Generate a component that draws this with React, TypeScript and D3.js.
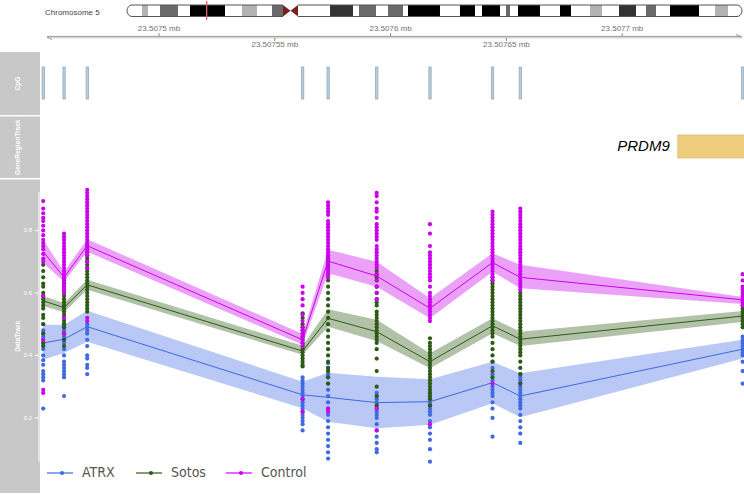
import React from "react";
import * as d3 from "d3";

const WIDTH = 744;
const HEIGHT = 495;

// chromosome 5 cytobands, Mb
const bandEdges = [
  0, 4.43, 6.2, 9.74, 15.05, 18.59, 28.92, 33.94, 38.37, 42.79, 46.04, 50.47, 59.91, 63.16, 66.7,
  68.47, 73.49, 77.03, 81.45, 82.93, 92.37, 98.27, 102.7, 104.77, 110.08, 111.85, 113.03, 115.39,
  121.88, 127.79, 131.03, 136.64, 140.18, 145.2, 150.22, 153.16, 156.12, 160.25, 168.81, 173.53,
  177.37, 181.5,
];
const bandStains = [
  "gneg", "gpos25", "gneg", "gpos50", "gneg", "gpos100", "gneg", "gpos25", "gneg", "gpos50",
  "acen", "gneg", "gpos75", "gpos75", "gneg", "gpos50", "gneg", "gpos50", "gneg", "gpos100",
  "gneg", "gpos100", "gneg", "gpos100", "gneg", "gpos50", "gneg", "gpos100", "gneg", "gpos100",
  "gneg", "gpos25", "gneg", "gpos75", "gneg", "gpos50", "gneg", "gpos100", "gneg", "gpos25", "gneg",
];
const markerMb = 23.5076;

// genome axis
const tickBp = [23507500, 23507550, 23507600, 23507650, 23507700];
const tickLabels = ["23.5075 mb", "23.50755 mb", "23.5076 mb", "23.50765 mb", "23.5077 mb"];

// CpG sites and gene
const cpgSites = [
  23507450, 23507459, 23507469, 23507562, 23507573, 23507594, 23507617, 23507644, 23507656,
  23507752,
];
const geneName = "PRDM9";
const geneStart = 23507724;
const geneEnd = 23507900;

// data track
const yTicks = [0.2, 0.4, 0.6, 0.8];
const groups = ["ATRX", "Sotos", "Control"];

const atrxMean = [0.44, 0.452, 0.492, 0.274, 0.266, 0.249, 0.252, 0.313, 0.27, 0.42];
const atrxLow = [0.386, 0.408, 0.444, 0.231, 0.188, 0.167, 0.178, 0.247, 0.202, 0.39];
const atrxHigh = [0.498, 0.498, 0.543, 0.316, 0.345, 0.332, 0.324, 0.38, 0.343, 0.45];

const sotosMean = [0.575, 0.553, 0.626, 0.414, 0.519, 0.476, 0.38, 0.495, 0.452, 0.526];
const sotosLow = [0.558, 0.538, 0.61, 0.402, 0.492, 0.446, 0.359, 0.471, 0.43, 0.507];
const sotosHigh = [0.59, 0.568, 0.642, 0.431, 0.548, 0.514, 0.407, 0.519, 0.476, 0.542];

const controlMean = [0.732, 0.65, 0.751, 0.45, 0.702, 0.654, 0.551, 0.697, 0.65, 0.578];
const controlLow = [0.696, 0.636, 0.732, 0.434, 0.663, 0.62, 0.519, 0.668, 0.615, 0.565];
const controlHigh = [0.77, 0.668, 0.772, 0.469, 0.738, 0.7, 0.583, 0.727, 0.69, 0.587];

const atrxPts = [
  [0.5, 0.48, 0.47, 0.46, 0.45, 0.44, 0.43, 0.42, 0.4, 0.385, 0.37, 0.35, 0.34, 0.33, 0.32, 0.23],
  [0.5, 0.49, 0.48, 0.47, 0.46, 0.45, 0.44, 0.42, 0.4, 0.38, 0.37, 0.36, 0.35, 0.34, 0.33, 0.27],
  [0.5, 0.49, 0.48, 0.47, 0.45, 0.43, 0.4, 0.39, 0.37, 0.36, 0.34],
  [0.33, 0.32, 0.31, 0.3, 0.29, 0.28, 0.27, 0.26, 0.25, 0.24, 0.23, 0.22, 0.21, 0.2, 0.19, 0.18, 0.16],
  [0.375, 0.36, 0.35, 0.34, 0.33, 0.31, 0.29, 0.27, 0.25, 0.23, 0.21, 0.19, 0.17, 0.15, 0.13, 0.11, 0.09, 0.07],
  [0.28, 0.27, 0.26, 0.25, 0.24, 0.23, 0.22, 0.21, 0.2, 0.18, 0.16, 0.14, 0.12, 0.1, 0.09],
  [0.28, 0.27, 0.26, 0.25, 0.24, 0.23, 0.22, 0.21, 0.19, 0.17, 0.15, 0.13, 0.1, 0.06],
  [0.38, 0.36, 0.34, 0.32, 0.3, 0.29, 0.28, 0.27, 0.25, 0.23, 0.2, 0.14],
  [0.34, 0.33, 0.32, 0.31, 0.3, 0.29, 0.28, 0.27, 0.26, 0.25, 0.24, 0.23, 0.21, 0.19, 0.17, 0.15, 0.12],
  [0.46, 0.45, 0.44, 0.43, 0.42, 0.41, 0.4, 0.38, 0.35, 0.31],
];

const sotosPts = [
  [0.69, 0.67, 0.65, 0.63, 0.62, 0.6, 0.59, 0.58, 0.57, 0.56, 0.55, 0.53, 0.52, 0.5, 0.47, 0.44, 0.43],
  [0.64, 0.63, 0.62, 0.61, 0.6, 0.59, 0.58, 0.57, 0.56, 0.55, 0.54, 0.53, 0.52, 0.51, 0.5, 0.49, 0.47, 0.45, 0.43],
  [0.75, 0.74, 0.73, 0.72, 0.71, 0.7, 0.69, 0.68, 0.67, 0.66, 0.65, 0.64, 0.63, 0.62, 0.61, 0.6, 0.59, 0.58, 0.57, 0.56, 0.55, 0.54],
  [0.535, 0.52, 0.5, 0.49, 0.48, 0.47, 0.46, 0.45, 0.44, 0.43, 0.42, 0.41, 0.4, 0.39, 0.38, 0.37, 0.365],
  [0.72, 0.71, 0.7, 0.69, 0.68, 0.66, 0.64, 0.62, 0.6, 0.58, 0.56, 0.54, 0.52, 0.5, 0.48, 0.46, 0.44, 0.42, 0.4, 0.38, 0.36, 0.35, 0.33, 0.31],
  [0.67, 0.66, 0.65, 0.64, 0.62, 0.6, 0.58, 0.57, 0.56, 0.54, 0.53, 0.52, 0.51, 0.5, 0.49, 0.48, 0.47, 0.46, 0.45, 0.44, 0.42, 0.39, 0.35, 0.3, 0.27, 0.24],
  [0.455, 0.44, 0.43, 0.42, 0.41, 0.4, 0.39, 0.38, 0.37, 0.36, 0.35, 0.34, 0.33, 0.32, 0.31, 0.3, 0.29, 0.28, 0.27, 0.26, 0.24],
  [0.65, 0.64, 0.63, 0.62, 0.61, 0.6, 0.59, 0.58, 0.57, 0.56, 0.55, 0.54, 0.53, 0.52, 0.51, 0.5, 0.49, 0.48, 0.47, 0.46, 0.44, 0.42, 0.4, 0.38, 0.35, 0.33],
  [0.6, 0.59, 0.58, 0.57, 0.56, 0.55, 0.54, 0.53, 0.52, 0.51, 0.5, 0.49, 0.48, 0.47, 0.46, 0.45, 0.44, 0.43, 0.42, 0.41, 0.4, 0.38, 0.36, 0.34, 0.31],
  [0.56, 0.55, 0.54, 0.53, 0.52, 0.51, 0.5, 0.49],
];

const controlPts = [
  [0.894, 0.87, 0.855, 0.84, 0.83, 0.815, 0.8, 0.785, 0.77, 0.76, 0.75, 0.74, 0.725, 0.71, 0.7, 0.59, 0.45, 0.29, 0.28],
  [0.79, 0.78, 0.77, 0.76, 0.75, 0.74, 0.73, 0.72, 0.71, 0.7, 0.69, 0.68, 0.67, 0.66, 0.65, 0.64, 0.63, 0.62, 0.61, 0.6, 0.52, 0.47],
  [0.93, 0.92, 0.91, 0.9, 0.89, 0.88, 0.87, 0.86, 0.85, 0.84, 0.83, 0.82, 0.81, 0.8, 0.79, 0.78, 0.77, 0.76, 0.75, 0.74, 0.73, 0.72, 0.7, 0.68, 0.52, 0.51],
  [0.62, 0.6, 0.58, 0.56, 0.53, 0.51, 0.49, 0.48, 0.47, 0.46, 0.45, 0.44, 0.43, 0.26, 0.22],
  [0.89, 0.88, 0.87, 0.86, 0.85, 0.83, 0.82, 0.81, 0.8, 0.79, 0.78, 0.77, 0.76, 0.75, 0.74, 0.73, 0.72, 0.71, 0.7, 0.69, 0.68, 0.67, 0.66, 0.65, 0.23, 0.22],
  [0.92, 0.91, 0.89, 0.87, 0.86, 0.84, 0.82, 0.81, 0.8, 0.79, 0.78, 0.77, 0.75, 0.74, 0.73, 0.72, 0.71, 0.7, 0.69, 0.68, 0.66, 0.64, 0.62, 0.6, 0.58, 0.23, 0.16],
  [0.82, 0.79, 0.75, 0.73, 0.72, 0.71, 0.7, 0.69, 0.68, 0.67, 0.66, 0.65, 0.64, 0.62, 0.6, 0.59, 0.58, 0.57, 0.56, 0.55, 0.54, 0.53, 0.52, 0.51, 0.18],
  [0.86, 0.85, 0.84, 0.83, 0.82, 0.81, 0.8, 0.79, 0.78, 0.77, 0.76, 0.75, 0.74, 0.73, 0.72, 0.71, 0.7, 0.69, 0.68, 0.67, 0.66, 0.65, 0.64, 0.31],
  [0.87, 0.86, 0.85, 0.84, 0.83, 0.82, 0.81, 0.8, 0.79, 0.78, 0.77, 0.76, 0.75, 0.74, 0.73, 0.72, 0.71, 0.7, 0.69, 0.68, 0.67, 0.66, 0.65, 0.64, 0.63, 0.62, 0.61],
  [0.66, 0.64, 0.62, 0.61, 0.6, 0.59, 0.58, 0.575, 0.57, 0.56],
];

const series = [
  { name: groups[0], color: "#4169E1", mean: atrxMean, low: atrxLow, high: atrxHigh, pts: atrxPts },
  { name: groups[1], color: "#2D5A16", mean: sotosMean, low: sotosLow, high: sotosHigh, pts: sotosPts },
  { name: groups[2], color: "#CC00EE", mean: controlMean, low: controlLow, high: controlHigh, pts: controlPts },
];

const stainColor: Record<string, string> = {
  gneg: "#FFFFFF",
  gpos25: "#B3B3B3",
  gpos50: "#6A6A6A",
  gpos75: "#333333",
  gpos100: "#000000",
  acen: "#7A1E1E",
};

const TITLE_BG = "#C8C8C8";
const FONT = "'Liberation Sans', Arial, sans-serif";

function Ideogram() {
  const xi = d3.scaleLinear().domain([0, 181.5]).range([127, 742]);
  const y0 = 5;
  const y1 = 16.5;
  const ym = (y0 + y1) / 2;
  const r = 5;
  const ci = bandStains.indexOf("acen");
  const c0 = xi(bandEdges[ci]);
  const c1 = xi(bandEdges[ci + 1]);
  const cm = (c0 + c1) / 2;
  const L = xi(0);
  const R = xi(181.5);
  const pArm = `M${c0},${y0} L${L + r},${y0} A${r},${(y1 - y0) / 2} 0 0 0 ${L + r},${y1} L${c0},${y1}`;
  const qArm = `M${c1},${y0} L${R - r},${y0} A${r},${(y1 - y0) / 2} 0 0 1 ${R - r},${y1} L${c1},${y1}`;
  return (
    <g>
      <defs>
        <clipPath id="chrClip">
          <path d={pArm + " Z"} />
          <path d={qArm + " Z"} />
        </clipPath>
      </defs>
      <g clipPath="url(#chrClip)">
        {bandStains.map((s, i) =>
          s === "acen" ? null : (
            <rect
              key={i}
              x={xi(bandEdges[i])}
              y={y0}
              width={xi(bandEdges[i + 1]) - xi(bandEdges[i])}
              height={y1 - y0}
              fill={stainColor[s]}
            />
          )
        )}
      </g>
      <path d={`M${c0},${y0} L${c0},${y1} L${cm},${ym} Z`} fill={stainColor.acen} />
      <path d={`M${c1},${y0} L${c1},${y1} L${cm},${ym} Z`} fill={stainColor.acen} />
      <path d={pArm} fill="none" stroke="#555" strokeWidth={1} />
      <path d={qArm} fill="none" stroke="#555" strokeWidth={1} />
      <line x1={xi(markerMb)} x2={xi(markerMb)} y1={1} y2={20} stroke="#E06666" strokeWidth={1.3} />
      <text x={45} y={13} fontSize={8} fill="#444" fontFamily={FONT} dominantBaseline="middle">
        Chromosome 5
      </text>
    </g>
  );
}

export default function App() {
  const xs = d3
    .scaleLinear()
    .domain([23507500 - 117 / 2.316, 23507500 + 585 / 2.316])
    .range([42, 744]);
  const ys = d3.scaleLinear().domain([0.059, 0.923]).range([462, 192]);

  const area = d3
    .area<number>()
    .x((_, i) => xs(cpgSites[i]));
  const line = d3
    .line<number>()
    .x((_, i) => xs(cpgSites[i]))
    .y((d) => ys(d));

  const axisY = 37;
  const legendX = [47, 136, 226];

  return (
    <svg
      width={WIDTH}
      height={HEIGHT}
      style={{ position: "absolute", left: 0, top: 0, background: "#fff" }}
      fontFamily={FONT}
    >
      <Ideogram />

      {/* genome axis */}
      <g>
        <line x1={47} x2={742} y1={axisY - 0.6} y2={axisY - 0.6} stroke="#9A9A9A" strokeWidth={1} />
        <line x1={47} x2={742} y1={axisY + 0.8} y2={axisY + 0.8} stroke="#C4C4C4" strokeWidth={1} />
        <path d={`M736,${axisY - 2.5} L742,${axisY} `} stroke="#9A9A9A" fill="none" />
        <path d={`M47,${axisY} L52,${axisY + 2.5}`} stroke="#9A9A9A" fill="none" />
        {tickBp.map((t, i) => {
          const up = i % 2 === 0;
          const x = xs(t);
          return (
            <g key={t}>
              <line
                x1={x}
                x2={x}
                y1={up ? axisY - 4 : axisY + 1}
                y2={up ? axisY - 1 : axisY + 4}
                stroke="#888"
              />
              <text
                x={x}
                y={up ? 29 : 45}
                fontSize={8}
                fill="#707070"
                textAnchor="middle"
                dominantBaseline="middle"
              >
                {tickLabels[i]}
              </text>
            </g>
          );
        })}
      </g>

      {/* title panels */}
      {[
        { y0: 52, y1: 115, label: "CpG" },
        { y0: 116.5, y1: 178, label: "GeneRegionTrack" },
        { y0: 179.5, y1: 493, label: "DataTrack" },
      ].map((p) => (
        <g key={p.label}>
          <rect x={0} y={p.y0} width={40} height={p.y1 - p.y0} fill={TITLE_BG} />
          <text
            transform={`translate(18,${(p.y0 + p.y1) / 2}) rotate(-90)`}
            fontSize={6.5}
            fontWeight="bold"
            fill="#fff"
            textAnchor="middle"
            dominantBaseline="middle"
          >
            {p.label}
          </text>
        </g>
      ))}

      {/* CpG track */}
      {cpgSites.map((s) => (
        <rect
          key={s}
          x={xs(s) - 1.1}
          y={67}
          width={2.3}
          height={32}
          fill="#B7CFDD"
          stroke="#93AABA"
          strokeWidth={0.8}
        />
      ))}

      {/* gene region track */}
      <rect
        x={xs(geneStart)}
        y={135}
        width={xs(geneEnd) - xs(geneStart)}
        height={23}
        fill="#EECE7E"
        stroke="#D8BC76"
        strokeWidth={0.8}
      />
      <text
        x={xs(geneStart) - 8}
        y={147}
        fontSize={15}
        fontStyle="italic"
        fill="#000"
        textAnchor="end"
        dominantBaseline="middle"
      >
        {geneName}
      </text>

      {/* data track axis */}
      <line x1={39} x2={39} y1={192} y2={462} stroke="#fff" strokeWidth={1} />
      {yTicks.map((t) => (
        <g key={t}>
          <line x1={35} x2={39} y1={ys(t)} y2={ys(t)} stroke="#fff" />
          <text
            x={32}
            y={ys(t)}
            fontSize={6}
            fill="#fff"
            textAnchor="end"
            dominantBaseline="middle"
          >
            {t.toFixed(1)}
          </text>
        </g>
      ))}

      {/* confidence ribbons */}
      {series.map((s) => (
        <path
          key={s.name + "-band"}
          d={area.y0((_, i) => ys(s.low[i])).y1((_, i) => ys(s.high[i]))(s.mean) || ""}
          fill={s.color}
          fillOpacity={0.37}
        />
      ))}

      {/* points and mean lines */}
      {series.map((s) => (
        <g key={s.name}>
          {s.pts.map((col, i) =>
            col.map((v, j) => (
              <circle key={i + "-" + j} cx={xs(cpgSites[i])} cy={ys(v)} r={2.1} fill={s.color} />
            ))
          )}
          <path d={line(s.mean) || ""} fill="none" stroke={s.color} strokeWidth={1} />
        </g>
      ))}

      {/* legend */}
      {series.map((s, i) => (
        <g key={s.name + "-legend"} transform={`translate(${legendX[i]},473)`}>
          <line x1={0} x2={26} y1={0} y2={0} stroke={s.color} strokeWidth={1.2} />
          <circle cx={15} cy={0} r={2.1} fill={s.color} />
          <text
            x={35}
            y={0}
            fontSize={14}
            fill="#555"
            fontFamily="'Liberation Sans Narrow', 'DejaVu Sans Condensed', Arial, sans-serif"
            dominantBaseline="middle"
          >
            {s.name}
          </text>
        </g>
      ))}
    </svg>
  );
}
